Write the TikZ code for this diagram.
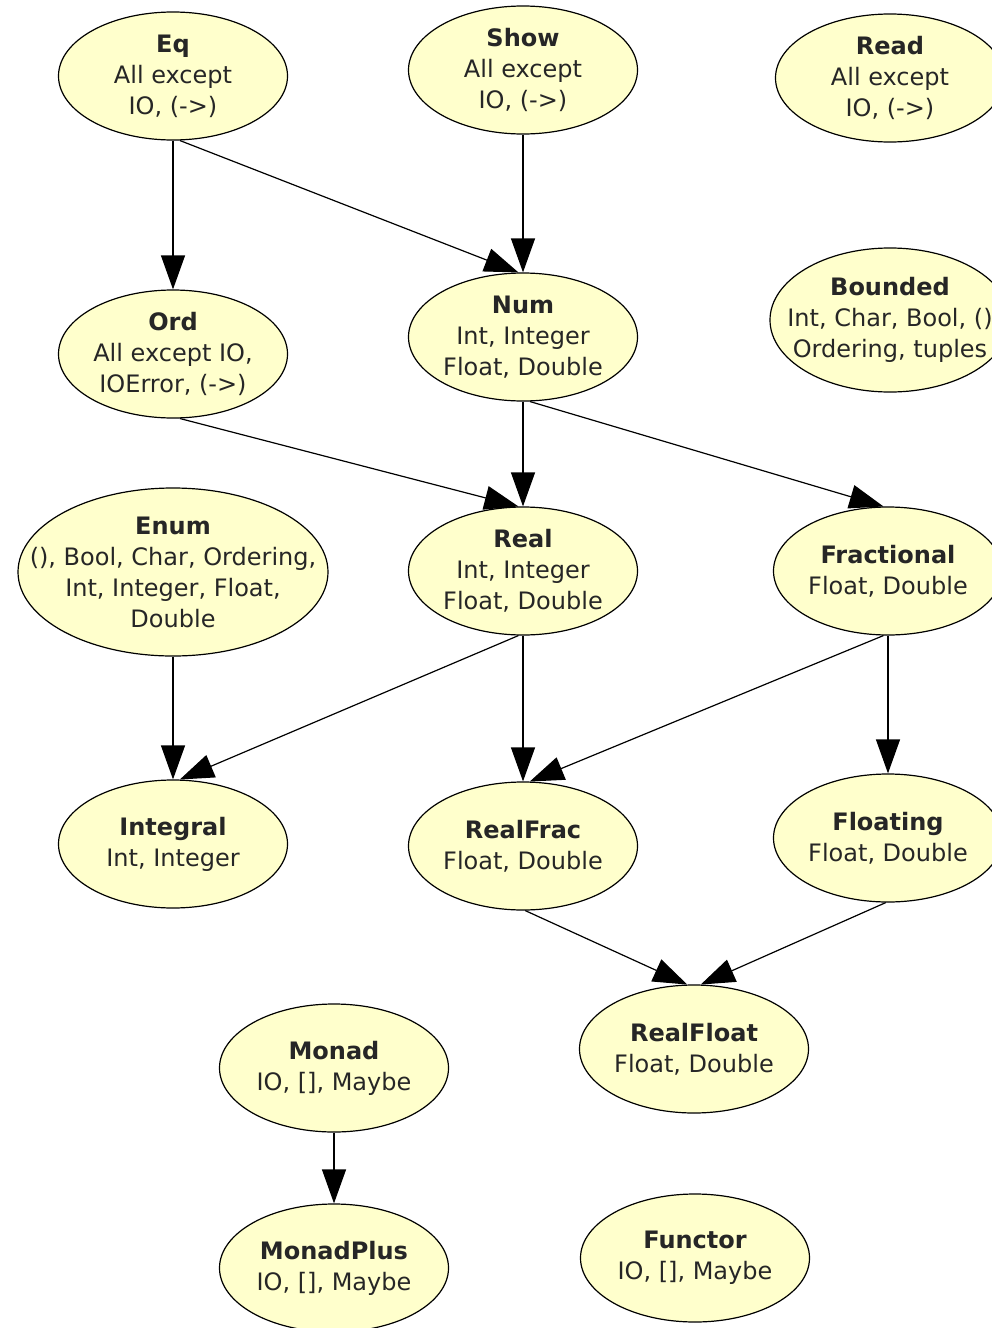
\documentclass[tikz,border=0pt]{standalone}
\usepackage{fontspec}
\setmainfont{DejaVu Sans}
\usetikzlibrary{arrows.meta,shapes.geometric}
\definecolor{clsfill}{RGB}{255,255,204}

\begin{document}
\begin{tikzpicture}[x=1pt,y=-1pt,
    txt/.style={align=center,font=\fontsize{24}{31}\selectfont,text=black!85},
    cls/.style={draw,ellipse,fill=clsfill,line width=1.2pt,inner sep=0pt,
                minimum width=229pt,minimum height=128pt,
                label={[txt]center:{#1}}},
    edge/.style={-{Triangle[length=34pt,width=24pt]},line width=1.2pt}]
\useasboundingbox (0,0) rectangle (992,1328);
\clip (0,0) rectangle (992,1328);

\node [cls={\textbf{Eq}\\All except\\IO, (->)}]          (eq)       at (173,  76) {};
\node [cls={\textbf{Show}\\All except\\IO, (->)}]        (show)     at (523,  70) {};
\node [cls={\textbf{Read}\\All except\\IO, (->)}]        (read)     at (890,  78) {};
\node [cls={\textbf{Ord}\\All except IO,\\IOError, (->)}] (ord)     at (173, 354) {};
\node [cls={\textbf{Num}\\Int, Integer\\Float, Double}]  (num)      at (523, 337) {};
\node [cls={\textbf{Bounded}\\Int, Char, Bool, ()\\Ordering, tuples},
       minimum width=240pt,minimum height=144pt]         (bounded)  at (890, 320) {};
\node [cls={\textbf{Enum}\\(), Bool, Char, Ordering,\\Int, Integer, Float,\\Double},
       minimum width=310pt,minimum height=168pt]         (enum)     at (173, 572) {};
\node [cls={\textbf{Real}\\Int, Integer\\Float, Double}] (real)     at (523, 571) {};
\node [cls={\textbf{Fractional}\\Float, Double}]         (fractional) at (888, 571) {};
\node [cls={\textbf{Integral}\\Int, Integer}]            (integral) at (173, 844) {};
\node [cls={\textbf{RealFrac}\\Float, Double}]           (realfrac) at (523, 846) {};
\node [cls={\textbf{Floating}\\Float, Double}]           (floating) at (888, 838) {};
\node [cls={\textbf{RealFloat}\\Float, Double}]          (realfloat) at (694,1049) {};
\node [cls={\textbf{Monad}\\IO, [], Maybe}]              (monad)    at (334,1068) {};
\node [cls={\textbf{MonadPlus}\\IO, [], Maybe}]          (monadplus) at (334,1268) {};
\node [cls={\textbf{Functor}\\IO, [], Maybe}]            (functor)  at (695,1258) {};

\draw[edge] (eq.south)         -- (ord.north);
\draw[edge] (eq.-84)           -- (num.94);
\draw[edge] (show.south)       -- (num.north);
\draw[edge] (ord.-84)          -- (real.94);
\draw[edge] (num.south)        -- (real.north);
\draw[edge] (num.-84)          -- (fractional.94);
\draw[edge] (enum.south)       -- (integral.north);
\draw[edge] (real.-94)         -- (integral.84);
\draw[edge] (real.south)       -- (realfrac.north);
\draw[edge] (fractional.-94)   -- (realfrac.84);
\draw[edge] (fractional.south) -- (floating.north);
\draw[edge] (realfrac.-88)     -- (realfloat.96);
\draw[edge] (floating.-92)     -- (realfloat.84);
\draw[edge] (monad.south)      -- (monadplus.north);
\end{tikzpicture}
\end{document}
